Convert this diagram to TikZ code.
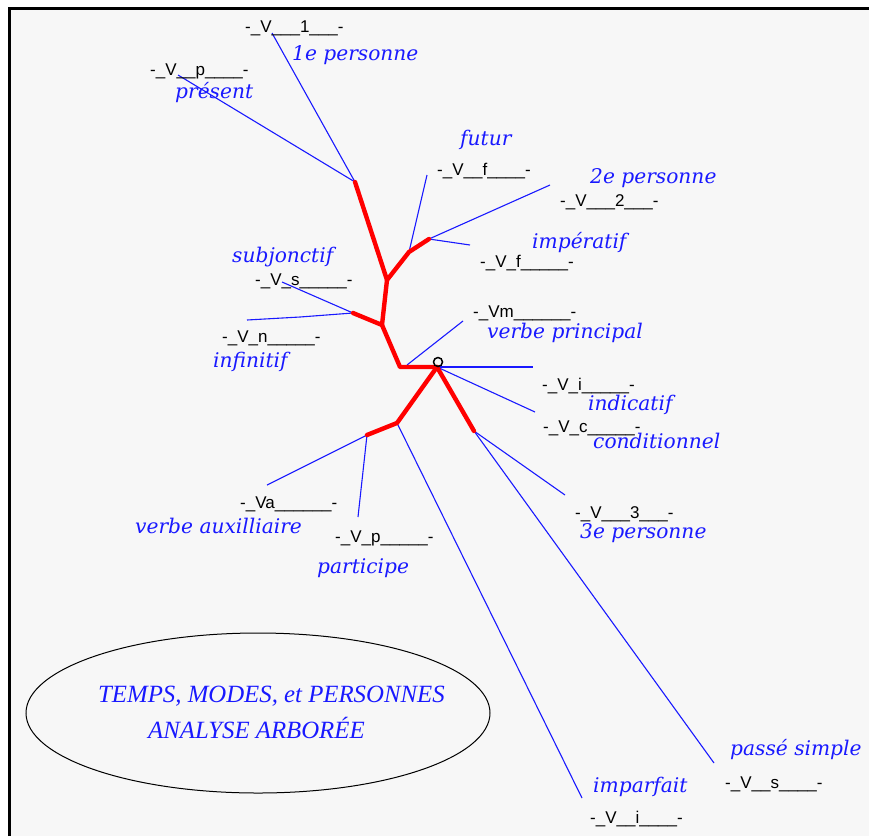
\documentclass[tikz,border=0pt]{standalone}
\usepackage{fontspec}
\newfontfamily\glossfont{DejaVu Serif}
\newfontfamily\codefont{Liberation Sans}
\newfontfamily\titlefont{Liberation Serif}
\definecolor{lblue}{RGB}{25,25,255}
\definecolor{paper}{RGB}{247,247,247}
\begin{document}
\begin{tikzpicture}[x=1pt,y=-1pt,
  branch/.style={draw=lblue, line width=1.1pt},
  trunk/.style={draw=red, line width=4.4pt, line cap=round, line join=round},
  code/.style={anchor=base west, inner sep=0pt, text=black,
    font=\codefont\fontsize{17}{17}\selectfont},
  gloss/.style={anchor=base west, inner sep=0pt, text=lblue,
    font=\glossfont\itshape\fontsize{20.2}{20.2}\selectfont},
  headline/.style={anchor=base west, inner sep=0pt, text=lblue,
    font=\titlefont\itshape\fontsize{24.8}{24.8}\selectfont}]
\useasboundingbox (0,0) rectangle (869,836);
% page and frame
\fill[white] (0,0) rectangle (869,836);
\fill[paper] (11,10) rectangle (869,836);
\draw[line width=2.7pt] (9.7,836) -- (9.7,8.7) -- (869,8.7);

% tree joints
\coordinate (root) at (437,367);
\coordinate (h1) at (400,367);
\coordinate (j1) at (382,325);
\coordinate (j2) at (387,280);
\coordinate (t1) at (355,182);
\coordinate (k1) at (409,252);
\coordinate (k2) at (429,239);
\coordinate (s1) at (353,313);
\coordinate (d1) at (397,423);
\coordinate (d2) at (367,435);
\coordinate (e1) at (474,431);
\coordinate (vp) at (407,365);

% free ends of the branches
\coordinate (end1p) at (272,33);
\coordinate (endpres) at (178,75);
\coordinate (endfut) at (427,175);
\coordinate (end2p) at (550,185);
\coordinate (endimpe) at (470,245);
\coordinate (endsubj) at (282,282);
\coordinate (endinf) at (247,320);
\coordinate (endvp) at (463,321);
\coordinate (endind) at (533,367);
\coordinate (endcond) at (535,412);
\coordinate (endaux) at (267,485);
\coordinate (endpart) at (358,517);
\coordinate (endimpa) at (582,798);
\coordinate (end3p) at (565,495);
\coordinate (endps) at (714,763);

% blue branches
\draw[branch] (t1) -- (end1p);
\draw[branch] (t1) -- (endpres);
\draw[branch] (k1) -- (endfut);
\draw[branch] (k2) -- (end2p);
\draw[branch] (k2) -- (endimpe);
\draw[branch] (s1) -- (endsubj);
\draw[branch] (s1) -- (300,317) -- (endinf);
\draw[branch] (vp) -- (endvp);
\draw[branch] (root) -- (endind);
\draw[branch] (root) -- (endcond);
\draw[branch] (d2) -- (endaux);
\draw[branch] (d2) -- (endpart);
\draw[branch] (d1) -- (endimpa);
\draw[branch] (e1) -- (end3p);
\draw[branch] (e1) -- (endps);

% red trunk
\draw[trunk] (t1) -- (j2) -- (j1) -- (h1) -- (root);
\draw[trunk] (j2) -- (k1) -- (k2);
\draw[trunk] (j1) -- (s1);
\draw[trunk] (root) -- (d1) -- (d2);
\draw[trunk] (root) -- (e1);

% root mark
\node[circle, draw=black, line width=1.5pt, minimum size=9pt, inner sep=0pt] (rootmark) at (438,362) {};

% code labels
\node[code] (c1p) at (245,32) {-\_V\_\_\_1\_\_\_-};
\node[code] (cpres) at (150,75) {-\_V\_\_p\_\_\_\_-};
\node[code] (cfut) at (437,175) {-\_V\_\_f\_\_\_\_-};
\node[code] (c2p) at (560,206) {-\_V\_\_\_2\_\_\_-};
\node[code] (cimpe) at (480,267) {-\_V\_f\_\_\_\_\_-};
\node[code] (csubj) at (255,285) {-\_V\_s\_\_\_\_\_-};
\node[code] (cinf) at (222,342) {-\_V\_n\_\_\_\_\_-};
\node[code] (cvp) at (473,317) {-\_Vm\_\_\_\_\_\_-};
\node[code] (cind) at (542,390) {-\_V\_i\_\_\_\_\_-};
\node[code] (ccond) at (543,432) {-\_V\_c\_\_\_\_\_-};
\node[code] (caux) at (240,508) {-\_Va\_\_\_\_\_\_-};
\node[code] (cpart) at (335,542) {-\_V\_p\_\_\_\_\_-};
\node[code] (c3p) at (575,518) {-\_V\_\_\_3\_\_\_-};
\node[code] (cps) at (725,788) {-\_V\_\_s\_\_\_\_-};
\node[code] (cimpa) at (590,823) {-\_V\_\_i\_\_\_\_-};

% glosses
\node[gloss] (g1p) at (292,60) {1e personne};
\node[gloss] (gpres) at (175,98) {présent};
\node[gloss] (gfut) at (460,145) {futur};
\node[gloss] (g2p) at (590,183) {2e personne};
\node[gloss] (gimpe) at (532,248) {impératif};
\node[gloss] (gsubj) at (232,262) {subjonctif};
\node[gloss] (ginf) at (213,367) {infinitif};
\node[gloss] (gvp) at (487,338) {verbe principal};
\node[gloss] (gind) at (588,410) {indicatif};
\node[gloss] (gcond) at (593,448) {conditionnel};
\node[gloss] (gaux) at (135,533) {verbe auxilliaire};
\node[gloss] (gpart) at (317,573) {participe};
\node[gloss] (g3p) at (580,538) {3e personne};
\node[gloss] (gps) at (730,755) {passé simple};
\node[gloss] (gimpa) at (593,792) {imparfait};

% title ellipse
\draw[line width=1pt] (258,713) ellipse [x radius=232, y radius=80];
\node[headline] (title1) at (98,702) {TEMPS, MODES, et PERSONNES};
\node[headline] (title2) at (148,738) {ANALYSE ARBORÉE};
\end{tikzpicture}
\end{document}
